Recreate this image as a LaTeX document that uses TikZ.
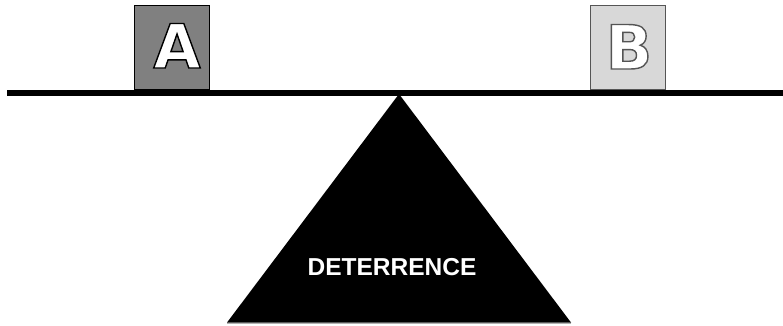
\documentclass[tikz,border=0pt]{standalone}
\usepackage{fontspec}
\setmainfont{Liberation Sans}
\newfontfamily\lourde{DejaVu Sans}
\definecolor{boxdark}{RGB}{128,128,128}
\definecolor{boxlight}{RGB}{216,216,216}
\definecolor{rimgray}{RGB}{85,85,85}
% lettre blanche cernée (mode de rendu 2 : remplir et tracer)
\newcommand{\cernee}[2]{\special{pdf:literal q 2 Tr 1.4 w #1 G 1 g}#2\special{pdf:literal Q}}
\tikzset{
  weight/.style={draw=#1,line width=0.8pt,minimum width=75pt,minimum height=84pt,inner sep=0pt},
  letter/.style={anchor=base,inner sep=0pt,font=\lourde\bfseries\fontsize{61}{61}\selectfont}
}
\begin{document}
\begin{tikzpicture}[x=1pt,y=-1pt]
		\useasboundingbox (0,0) rectangle (783,325);
		\node[weight=black,fill=boxdark] (boxA) at (171.5,47) {};
		\node[weight=rimgray,fill=boxlight] (boxB) at (628,47) {};
		\node[letter] (letA) at (177,68) {\cernee{0}{A}};
		\node[letter] (letB) at (629,69) {\cernee{0.33}{B}};
		%fléau
		\draw[line width=6pt] (7,93)--(783,93);
		%pivot
		\fill (399,94)--(227,322.5)--(571,322.5)--cycle;
		\draw[gray!60,line width=0.8pt] (227,323)--(571,323);
		\node[anchor=base,text=white,inner sep=0pt,font=\bfseries\fontsize{24.5}{24.5}\selectfont] (label) at (392,275) {DETERRENCE};
	\end{tikzpicture}
\end{document}
